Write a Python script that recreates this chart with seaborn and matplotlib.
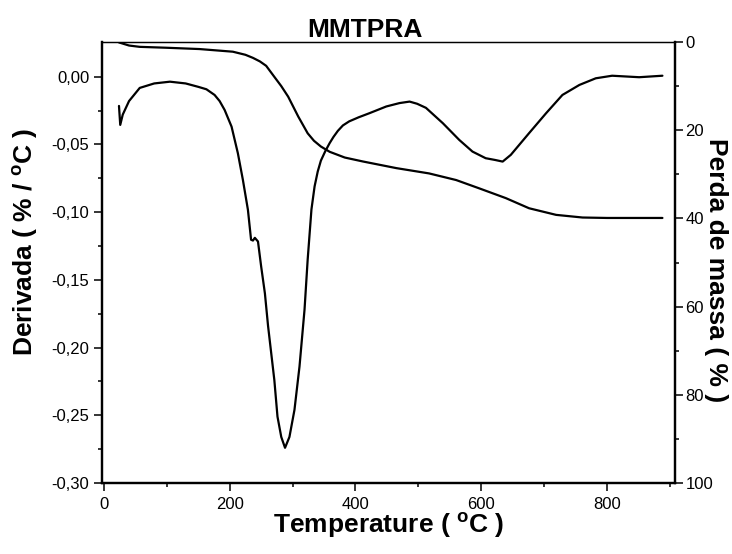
import matplotlib
matplotlib.use("Agg")
import matplotlib.pyplot as plt
import seaborn as sns
from matplotlib.ticker import FixedLocator

# ---- data ----
deriv_T = [24, 26, 30, 40, 57, 80, 105, 130, 150, 163, 176, 184, 192, 203, 213,
           221, 229, 234, 237, 240, 245, 250, 256, 261, 266, 271, 276, 282, 288,
           295, 303, 311, 319, 324, 330, 335, 340, 345, 352, 359, 365, 372, 380,
           390, 405, 422, 449, 470, 486, 498, 512, 539, 565, 586, 607, 622, 634,
           647, 676, 703, 729, 756, 782, 808, 851, 888]
deriv_val = [-0.0216, -0.0356, -0.028, -0.018, -0.0083, -0.005, -0.0037, -0.005,
             -0.0075, -0.0093, -0.0135, -0.018, -0.0246, -0.0369, -0.0565,
             -0.0762, -0.0983, -0.1204, -0.121, -0.119, -0.1217, -0.140, -0.160,
             -0.184, -0.204, -0.224, -0.251, -0.266, -0.274, -0.266, -0.246,
             -0.214, -0.172, -0.135, -0.098, -0.081, -0.070, -0.062, -0.055,
             -0.049, -0.0445, -0.040, -0.036, -0.033, -0.030, -0.027, -0.022,
             -0.0195, -0.0184, -0.020, -0.023, -0.0344, -0.0467, -0.0553, -0.0602,
             -0.0615, -0.0627, -0.0577, -0.0417, -0.027, -0.0135, -0.0061,
             -0.0012, 0.0007, -0.0004, 0.0007]

mass_T = [24, 40, 57, 99, 152, 205, 225, 237, 248, 258, 271, 282, 293, 309, 324,
          334, 345, 359, 383, 412, 465, 517, 560, 597, 639, 676, 719, 761, 800,
          888]
mass_loss = [0.1, 0.8, 1.1, 1.3, 1.6, 2.2, 2.9, 3.6, 4.4, 5.4, 7.9, 10.0, 12.4,
             16.9, 20.7, 22.4, 23.7, 24.9, 26.2, 27.1, 28.6, 29.8, 31.3, 33.2,
             35.4, 37.7, 39.2, 39.8, 39.9, 39.9]

x_ticks = [0, 200, 400, 600, 800]
x_labels = ["0", "200", "400", "600", "800"]
left_ticks = [-0.30, -0.25, -0.20, -0.15, -0.10, -0.05, 0.00]
left_labels = ["-0,30", "-0,25", "-0,20", "-0,15", "-0,10", "-0,05", "0,00"]
right_ticks = [0, 20, 40, 60, 80, 100]
right_labels = ["0", "20", "40", "60", "80", "100"]

title = "MMTPRA"
xlabel = r"Temperature ( $^{\mathbf{o}}$C )"
ylabel_left = r"Derivada ( % / $^{\mathbf{o}}$C )"
ylabel_right = "Perda de massa ( % )"

# ---- style ----
sns.set_style("ticks", {"text.color": "black", "axes.labelcolor": "black",
                        "xtick.color": "black", "ytick.color": "black",
                        "axes.edgecolor": "black"})
plt.rcParams["font.family"] = ["Liberation Sans", "DejaVu Sans"]
plt.rcParams["mathtext.fontset"] = "custom"
plt.rcParams["mathtext.rm"] = "Liberation Sans"
plt.rcParams["mathtext.bf"] = "Liberation Sans:bold"
plt.rcParams["mathtext.it"] = "Liberation Sans:italic"

fig = plt.figure(figsize=(7.32, 5.54), dpi=100)
L, R, B, T = 102 / 732, 675 / 732, 1 - 483 / 554, 1 - 42 / 554
ax = fig.add_axes([L, B, R - L, T - B])

sns.lineplot(x=deriv_T, y=deriv_val, ax=ax, color="black", lw=1.6,
             estimator=None, sort=False)
ax.set_xlim(-3, 908)
ax.set_ylim(-0.30, 0.0256)

ax2 = ax.twinx()
sns.lineplot(x=mass_T, y=mass_loss, ax=ax2, color="black", lw=1.6,
             estimator=None, sort=False)
ax2.set_ylim(100, 0)
ax2.set_xlim(-3, 908)

# ticks
ax.xaxis.set_major_locator(FixedLocator(x_ticks))
ax.set_xticklabels(x_labels)
ax.xaxis.set_minor_locator(FixedLocator([100, 300, 500, 700, 900]))
ax.yaxis.set_major_locator(FixedLocator(left_ticks))
ax.set_yticklabels(left_labels)
ax.yaxis.set_minor_locator(FixedLocator([-0.275, -0.225, -0.175, -0.125, -0.075, -0.025]))
ax2.yaxis.set_major_locator(FixedLocator(right_ticks))
ax2.set_yticklabels(right_labels)
ax2.yaxis.set_minor_locator(FixedLocator([10, 30, 50, 70, 90]))

for a in (ax, ax2):
    a.tick_params(which="major", length=6, width=1.1, labelsize=12, color="black",
                  labelcolor="black", direction="out")
    a.tick_params(which="minor", length=3.2, width=1.1, color="black", direction="out")
ax.tick_params(axis="x", pad=4)
ax.tick_params(axis="y", pad=3)
ax2.tick_params(axis="y", pad=1.5)
ax.tick_params(top=False, right=False, which="both")

# spines
for a in (ax, ax2):
    for s in ("left", "bottom", "right"):
        a.spines[s].set_linewidth(1.6)
        a.spines[s].set_color("black")
    a.spines["top"].set_linewidth(0.9)
    a.spines["top"].set_color("black")
    a.spines["top"].set_visible(True)
    a.spines["right"].set_visible(True)

# labels
ax.set_xlabel(xlabel, fontsize=19, fontweight="bold", va="baseline", color="black")
ax.xaxis.set_label_coords(0.5, -0.113)
ax.set_ylabel(ylabel_left, fontsize=19, fontweight="bold", rotation=90,
              va="center", ha="center", color="black")
ax.yaxis.set_label_coords(-0.134, 0.546)
ax2.set_ylabel(ylabel_right, fontsize=19, fontweight="bold", rotation=270,
               va="center", ha="center", color="black")
ax2.yaxis.set_label_coords(1.0716, 0.483)

fig.text(365 / 732, 1 - 37.3 / 554, title, fontsize=19, fontweight="bold",
         ha="center", va="baseline", color="black")

fig.savefig("out.png", dpi=100)
